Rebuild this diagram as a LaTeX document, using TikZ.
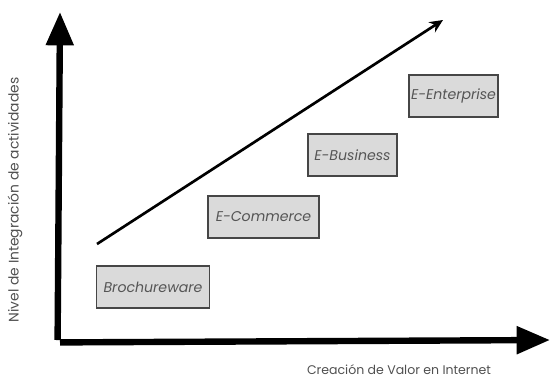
\documentclass[tikz,border=0pt]{standalone}
\usepackage{fontspec}
\setmainfont{Poppins}
\usetikzlibrary{arrows.meta}

\tikzset{every picture/.style={line width=0.75pt}}
\tikzset{
  etapa/.style={draw={rgb, 255:red, 70; green, 70; blue, 70}, line width=1.1pt, fill={rgb, 255:red, 218; green, 218; blue, 218}, minimum height=31.5pt, inner sep=0pt, font=\fontsize{10.6}{12}\selectfont\itshape, text={rgb, 255:red, 85; green, 85; blue, 85}},
  eje/.style={line width=4.8pt, -{Triangle[length=25pt, width=20pt]}},
  rotulo/.style={font=\fontsize{9.4}{11}\selectfont, text={rgb, 255:red, 80; green, 80; blue, 80}}
}

\begin{document}
\begin{tikzpicture}[x=0.75pt,y=0.75pt,yscale=-1,xscale=1]
\useasboundingbox (0,0) rectangle (550,380);

%Coordinates of the axes
\coordinate (origen) at (60,340);
\coordinate (ytope) at (60,12);
\coordinate (xtope) at (550,340);
%Axes
\draw [eje] ([xshift=-1.8pt]origen) -- (ytope) ;
\draw [eje] ([yshift=1.8pt]origen) -- (xtope) ;

%Axis labels
\node [rotulo, rotate=90, font=\fontsize{10.4}{11}\selectfont] (nivel) at (15,200) {Nivel de Integración de actividades};
\node [rotulo] (creacion) at (399,370) {Creación de Valor en Internet};

%Stages
\node [etapa, minimum width=85pt] (broch) at (153,287) {Brochureware};
\node [etapa, minimum width=83pt] (ecom) at (263.5,217) {E-Commerce};
\node [etapa, minimum width=67pt] (ebus) at (352.5,155) {E-Business};
\node [etapa, minimum width=67pt] (eent) at (453.5,96) {E-Enterprise};

%Trend arrow
\coordinate (inicio) at (97,244);
\coordinate (fin) at (443,20);
\draw [line width=2pt, -{Stealth[length=10pt, width=9pt]}] (inicio) -- (fin) ;

\end{tikzpicture}
\end{document}
